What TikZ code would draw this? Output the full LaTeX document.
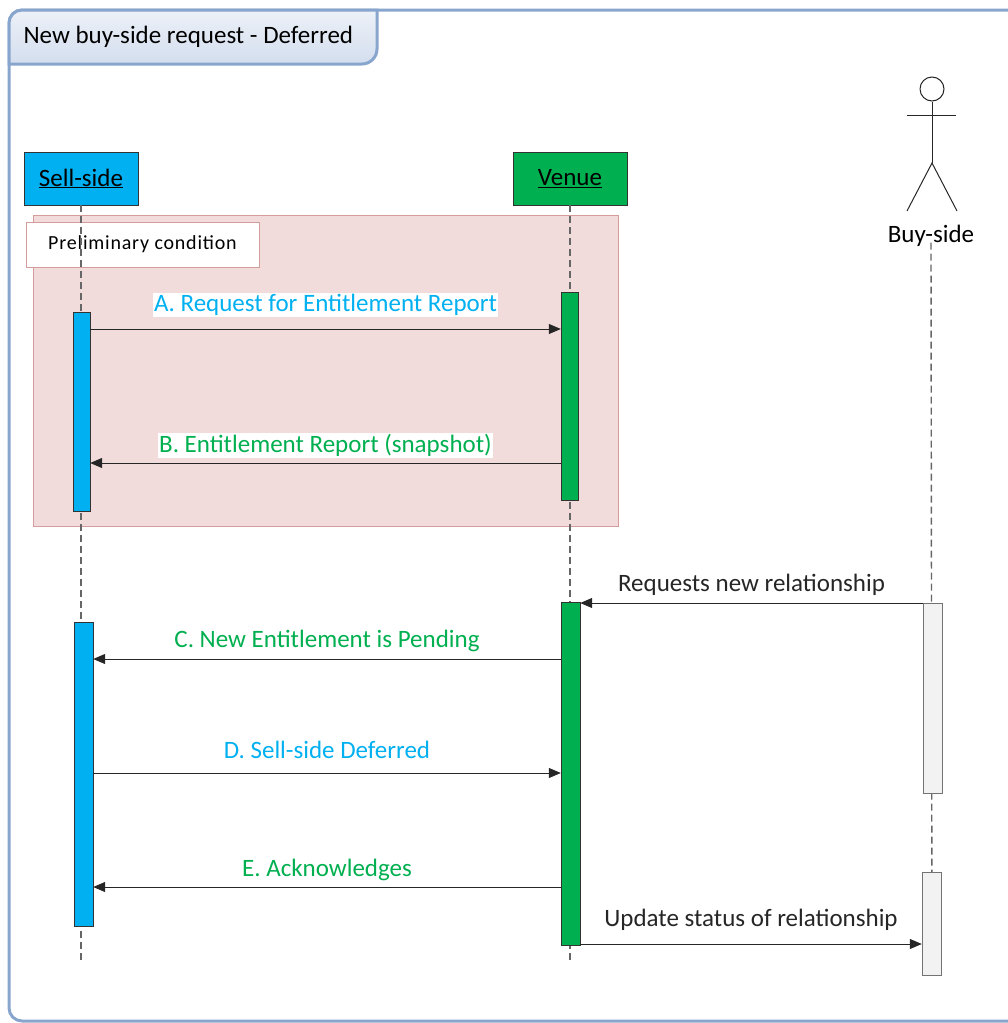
\documentclass[tikz,border=0pt]{standalone}
\usepackage{fontspec}
\setmainfont{Carlito}
\newfontfamily\prefont[LetterSpace=4]{Carlito}
\usetikzlibrary{arrows.meta,positioning}
\definecolor{sellblue}{HTML}{00B0F0}
\definecolor{venuegreen}{HTML}{00B050}
\definecolor{pinkfill}{HTML}{F2DCDB}
\definecolor{pinkline}{HTML}{D49C9A}
\definecolor{frameline}{HTML}{88A5CD}
\definecolor{tabtop}{HTML}{EDF1F8}
\definecolor{tabbot}{HTML}{D3DEEE}
\definecolor{buygrey}{HTML}{F2F2F2}
\begin{document}
\begin{tikzpicture}[x=1pt,y=-1pt,
  every node/.style={font=\fontsize{25}{30}\selectfont},
  head/.style={draw=black!80,minimum width=114pt,minimum height=53pt,inner sep=0pt},
  bar/.style={draw=black!80,minimum width=17pt,inner sep=0pt},
  msg/.style={-{Triangle[length=12pt,width=10pt]},black!85,line width=1pt},
  lifeline/.style={dash pattern=on 7pt off 4pt,black!60,line width=1.4pt},
  lbl/.style={midway,fill=white,inner sep=1pt}]
  \useasboundingbox (0,0) rectangle (1008,1023);
  \clip (0,0) rectangle (1008,1023);
  % frame and title tab
  \draw[frameline,line width=3pt,rounded corners=13pt] (9,10) rectangle (1040,1021);
  \draw[frameline,line width=3pt,top color=tabtop,bottom color=tabbot]
    (9,64) [rounded corners=13pt] -- (9,10) [sharp corners] -- (377,10)
    [rounded corners=15pt] -- (377,64) [sharp corners] -- cycle;
  \node[anchor=west] (title) at (20,37) {New buy-side request - Deferred};
  % preliminary condition
  \node[draw=pinkline,fill=pinkfill,minimum width=585pt,minimum height=311pt] (pre) at (325.5,370.5) {};
  \node[draw=pinkline,fill=white,minimum width=233pt,minimum height=45pt,
    font=\prefont\fontsize{20}{24}\selectfont] (prelbl) at (142.5,244.5) {Preliminary condition};
  % lifelines
  \node[head,fill=sellblue] (sell) at (81,178.5) {\underline{Sell-side}};
  \node[head,fill=venuegreen] (venue) at (570,178.5) {\underline{Venue}};
  \node (buy) at (931,236) {Buy-side};
  \coordinate (sellend) at (81,963);
  \coordinate (venueend) at (570,963);
  \coordinate (buyend) at (932,978);
  \draw[lifeline] (sell.south) -- (sellend);
  \draw[lifeline] (venue.south) -- (venueend);
  \draw[lifeline] (buy.base) -- (buyend);
  % actor
  \node[draw=black!85,circle,minimum size=24pt,inner sep=0pt,line width=1pt] (bhead) at (932,89) {};
  \coordinate (hip) at (932,163);
  \draw[black!85,line width=1pt] (bhead.south) -- (hip);
  \draw[black!85,line width=1pt] (907,115) -- (956,115);
  \draw[black!85,line width=1pt] (907,211) -- (hip) -- (957,211);
  % activations
  \node[bar,fill=sellblue,minimum height=199pt] (sa1) at (81.5,411.5) {};
  \node[bar,fill=venuegreen,minimum height=208pt] (va1) at (569.5,396) {};
  \node[bar,fill=venuegreen,minimum width=19pt,minimum height=343pt] (va2) at (570.5,773.5) {};
  \node[bar,fill=sellblue,minimum width=19pt,minimum height=304pt] (sa2) at (83.5,774) {};
  \node[bar,fill=buygrey,draw=black!55,minimum width=19pt,minimum height=190pt] (ba1) at (932.5,698) {};
  \node[bar,fill=buygrey,draw=black!55,minimum width=19pt,minimum height=103pt] (ba2) at (931.5,923.5) {};
  % messages
  \coordinate (mA) at (0,329);
  \coordinate (mB) at (0,463);
  \coordinate (mR) at (0,603);
  \coordinate (mC) at (0,659);
  \coordinate (mD) at (0,773);
  \coordinate (mE) at (0,887);
  \coordinate (mU) at (0,944);
  \draw[msg] (sa1.east |- mA) -- (va1.west |- mA)
    node[lbl,above=12pt,text=sellblue] {A. Request for Entitlement Report};
  \draw[msg] (va1.west |- mB) -- (sa1.east |- mB)
    node[lbl,above=5pt,text=venuegreen] {B. Entitlement Report (snapshot)};
  \draw[msg] (ba1.west |- mR) -- (va2.east |- mR)
    node[lbl,above=6pt] {Requests new relationship};
  \draw[msg] (va2.west |- mC) -- (sa2.east |- mC)
    node[lbl,above=6pt,text=venuegreen] {C. New Entitlement is Pending};
  \draw[msg] (sa2.east |- mD) -- (va2.west |- mD)
    node[lbl,above=13pt,text=sellblue] {D. Sell-side Deferred};
  \draw[msg] (va2.west |- mE) -- (sa2.east |- mE)
    node[lbl,above=5pt,text=venuegreen] {E. Acknowledges};
  \draw[msg] (va2.east |- mU) -- (ba2.west |- mU)
    node[lbl,above=12pt] {Update status of relationship};
\end{tikzpicture}
\end{document}
